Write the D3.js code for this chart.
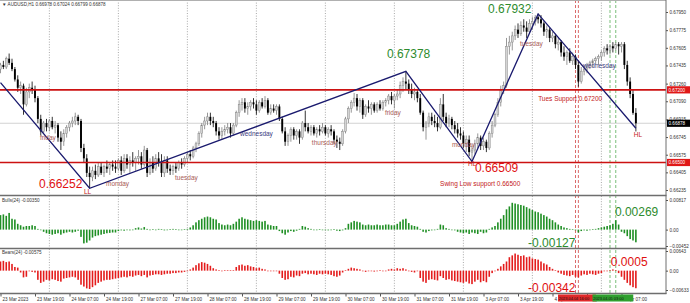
<!DOCTYPE html>
<html><head><meta charset="utf-8">
<script src="https://cdn.jsdelivr.net/npm/d3@7/dist/d3.min.js"></script>
<style>html,body{margin:0;padding:0;background:#fff;}svg{display:block;font-family:"Liberation Sans",Arial,sans-serif;}</style>
</head><body>
<svg id="c" width="690" height="303"></svg>
<script>
// ---------- DATA ----------
const symbolHeader = "AUDUSD,H1  0.66978 0.67024 0.66799 0.66878";
const days = ["23 Mar","24 Mar","27 Mar","28 Mar","29 Mar","30 Mar","31 Mar","3 Apr","4 Apr","5 Apr"];
const firstHour = 7, lastHour = 12;

// H1 candles [open, high, low, close] in units of 0.0001
const candles = [
// 23 Mar
[6740,6746,6736,6744],[6744,6748,6740,6742],[6742,6752,6740,6750],[6750,6755,6744,6746],[6746,6750,6738,6740],
[6740,6742,6728,6730],[6730,6734,6718,6722],[6722,6728,6716,6724],[6724,6726,6696,6706],[6706,6722,6704,6718],
[6718,6726,6712,6722],[6722,6728,6716,6720],[6720,6724,6708,6712],[6712,6714,6688,6692],[6692,6696,6676,6680],
[6680,6690,6678,6688],[6688,6692,6680,6684],
// 24 Mar
[6684,6692,6680,6690],[6690,6694,6682,6684],[6684,6690,6678,6686],[6686,6688,6670,6674],[6674,6680,6662,6670],
[6670,6682,6666,6678],[6678,6686,6674,6684],[6684,6690,6680,6688],[6688,6694,6684,6690],[6690,6698,6686,6694],
[6694,6696,6686,6690],[6690,6692,6660,6664],[6664,6668,6650,6654],[6654,6658,6636,6640],[6640,6646,6625.2,6636],
[6636,6646,6632,6642],[6642,6648,6634,6638],[6638,6650,6636,6646],[6646,6650,6638,6640],[6640,6648,6636,6646],
[6646,6652,6640,6644],[6644,6650,6638,6648],[6648,6652,6642,6646],[6646,6652,6640,6644],
// 27 Mar
[6644,6654,6642,6652],[6652,6656,6638,6642],[6642,6658,6640,6654],[6654,6658,6644,6648],[6648,6656,6640,6652],
[6652,6660,6646,6650],[6650,6656,6642,6654],[6654,6662,6648,6656],[6656,6660,6644,6648],[6648,6666,6646,6662],
[6662,6664,6636,6640],[6640,6654,6638,6650],[6650,6656,6640,6644],[6644,6658,6642,6654],[6654,6660,6646,6650],
[6650,6658,6636,6640],[6640,6656,6636,6652],[6652,6656,6640,6644],[6644,6648,6638,6642],[6642,6648,6638,6646],
[6646,6650,6640,6644],[6644,6652,6642,6650],[6650,6654,6644,6648],[6648,6656,6646,6654],
// 28 Mar
[6654,6660,6650,6658],[6658,6662,6652,6656],[6656,6666,6654,6664],[6664,6670,6660,6668],[6668,6680,6666,6678],
[6678,6688,6674,6686],[6686,6694,6682,6690],[6690,6698,6686,6694],[6694,6698,6686,6690],[6690,6694,6684,6688],
[6688,6690,6676,6680],[6680,6684,6672,6676],[6676,6684,6672,6680],[6680,6686,6676,6682],[6682,6688,6678,6684],
[6684,6688,6674,6678],[6678,6688,6676,6686],[6686,6700,6684,6698],[6698,6710,6694,6706],[6706,6712,6700,6708],
[6708,6712,6698,6702],[6702,6708,6696,6704],[6704,6710,6700,6708],[6708,6712,6702,6706],
// 29 Mar
[6706,6710,6696,6700],[6700,6710,6698,6708],[6708,6712,6702,6704],[6704,6714,6702,6710],[6710,6712,6696,6698],
[6698,6706,6696,6702],[6702,6706,6698,6700],[6700,6706,6696,6704],[6704,6706,6690,6692],[6692,6694,6678,6680],
[6680,6684,6666,6670],[6670,6678,6666,6676],[6676,6684,6670,6682],[6682,6684,6672,6676],[6676,6682,6672,6680],
[6680,6682,6668,6674],[6674,6690,6672,6688],[6688,6700,6680,6684],[6684,6688,6678,6680],[6680,6686,6676,6684],
[6684,6686,6676,6678],[6678,6684,6674,6682],[6682,6686,6676,6680],[6680,6688,6678,6684],
// 30 Mar
[6684,6686,6676,6678],[6678,6684,6674,6682],[6682,6686,6676,6680],[6680,6682,6668,6672],[6672,6676,6664,6670],
[6670,6674,6662,6668],[6668,6682,6666,6680],[6680,6694,6678,6692],[6692,6704,6688,6702],[6702,6710,6698,6708],
[6708,6717,6704,6712],[6712,6716,6700,6704],[6704,6712,6698,6710],[6710,6712,6692,6696],[6696,6706,6694,6704],
[6704,6710,6698,6702],[6702,6708,6696,6706],[6706,6708,6698,6700],[6700,6708,6698,6706],[6706,6710,6700,6702],
[6702,6710,6700,6708],[6708,6712,6704,6710],[6710,6716,6706,6714],[6714,6718,6706,6710],
// 31 Mar
[6710,6716,6702,6714],[6714,6720,6710,6716],[6716,6728,6712,6724],[6724,6732,6718,6728],[6728,6737.8,6720,6726],
[6726,6730,6716,6720],[6720,6726,6712,6716],[6716,6722,6710,6718],[6718,6720,6708,6712],[6712,6716,6696,6698],
[6698,6700,6680,6684],[6684,6690,6672,6688],[6688,6698,6684,6694],[6694,6698,6686,6690],[6690,6696,6684,6688],
[6688,6694,6680,6684],[6684,6712,6682,6706],[6706,6716,6690,6694],[6694,6698,6684,6688],[6688,6696,6684,6692],
[6692,6694,6682,6686],[6686,6690,6678,6682],[6682,6688,6674,6678],[6678,6684,6672,6676],
// 3 Apr
[6676,6680,6664,6668],[6668,6676,6660,6672],[6672,6676,6656,6660],[6660,6666,6650.9,6662],[6662,6672,6658,6668],
[6668,6678,6664,6674],[6674,6676,6662,6666],[6666,6674,6662,6670],[6670,6672,6660,6664],[6664,6680,6662,6678],
[6678,6690,6674,6686],[6686,6698,6684,6696],[6696,6712,6694,6708],[6708,6724,6704,6720],[6720,6728,6716,6724],
[6724,6770,6722,6762],[6762,6772,6754,6766],[6766,6776,6758,6772],[6772,6782,6768,6778],[6778,6784,6770,6774],
[6774,6786,6772,6782],[6782,6788,6776,6780],[6780,6786,6770,6776],[6776,6788,6774,6784],
// 4 Apr
[6784,6790,6778,6786],[6786,6792,6782,6790],[6790,6793.2,6784,6788],[6788,6792,6780,6784],[6784,6786,6772,6776],
[6776,6782,6770,6778],[6778,6780,6766,6770],[6770,6776,6766,6772],[6772,6774,6760,6764],[6764,6770,6758,6766],
[6766,6768,6752,6756],[6756,6762,6748,6752],[6752,6758,6744,6756],[6756,6760,6746,6748],[6748,6756,6744,6752],
[6752,6754,6740,6744],[6744,6748,6723,6728],[6728,6742,6726,6738],[6738,6744,6734,6740],[6740,6746,6736,6744],
[6744,6748,6740,6746],[6746,6750,6742,6748],[6748,6752,6744,6750],[6750,6754,6744,6752],
// 5 Apr
[6752,6758,6748,6756],[6756,6762,6752,6760],[6760,6764,6754,6758],[6758,6764,6754,6762],[6762,6766,6756,6760],
[6760,6766,6758,6764],[6764,6766,6754,6762],[6762,6766,6756,6764],[6764,6766,6740,6744],[6744,6748,6724,6728],
[6728,6732,6712,6716],[6716,6720,6696,6697.8],[6697.8,6702.4,6679.9,6687.8]
];

// Bulls Power(24), units of 0.0001
const bulls = [
40,42,38,46,30,28,16,12,8,10,10,12,10,2,0,-6,-10,
-12,-14,-12,-10,-14,-10,-8,-6,-8,-6,-3,-20,-38,-36,-30,-22,-18,-16,-14,-12,-10,-9,-8,-8,
-4,-2,-3,-1,-2,0,4,6,3,7,2,0,1,-1,2,1,-2,0,1,2,1,-1,0,1,
2,6,12,20,26,30,34,36,34,30,28,18,14,12,14,12,16,22,30,34,30,28,26,24,
26,24,22,24,14,12,10,10,-4,-10,-14,-8,-4,-6,-3,2,10,8,4,2,0,-1,1,0,
-1,-2,0,1,-3,-4,-2,4,16,20,24,22,20,14,12,14,12,12,14,12,12,14,14,12,
12,16,22,28,30,18,12,10,8,2,-6,-8,-4,-2,0,2,14,12,4,2,0,-2,-6,-8,
-10,-8,-12,-8,-10,-12,-6,-10,-8,2,6,10,20,30,40,56,64,74,72,70,68,66,62,58,
54,50,48,44,40,36,30,26,20,14,10,6,4,2,1,-2,-8,-4,-2,-3,0,1,2,4,
6,8,10,12,16,26,14,-6,-10,-18,-26,-30,-35
];

// Bears Power(24), units of 0.0001
const bears = [
30,32,28,30,22,12,10,-6,-22,-20,-2,-4,-6,-30,-40,-36,-30,
-32,-28,-30,-34,-36,-26,-24,-22,-20,-22,-30,-46,-52,-58,-60,-54,-48,-40,-36,-32,-30,-30,-28,-26,
-24,-22,-20,-22,-18,-20,-16,-14,-18,-14,-22,-16,-14,-12,-12,-14,-12,-10,-10,-8,-8,-6,-6,-4,
-2,4,10,18,24,28,26,22,16,8,4,2,0,1,2,1,2,12,18,20,16,18,14,12,
8,10,6,4,0,-2,-1,0,-10,-24,-30,-28,-20,-22,-16,-18,-10,-8,-12,-10,-12,-14,-10,-12,
-10,-12,-14,-18,-20,-16,-6,2,6,10,8,6,4,-2,-4,-2,0,-3,-1,1,-2,0,4,6,
4,8,6,8,4,0,-4,-6,-2,-24,-36,-40,-30,-28,-30,-32,-18,-24,-30,-28,-32,-34,-36,-38,
-40,-36,-42,-44,-36,-30,-38,-34,-38,-20,-8,-2,6,14,22,30,44,50,56,52,48,50,44,46,
40,38,36,30,24,20,12,6,2,-6,-10,-14,-16,-18,-14,-20,-22,-16,-12,-14,-10,-12,-14,-10,
-8,-2,0,2,4,1,-8,-20,-30,-40,-48,-54,-57.5
];

const priceTicks = [0.67950,0.67775,0.67605,0.67435,0.67260,0.67090,0.66915,0.66745,0.66575,0.66405,0.66235];
const bullTicks = [0.00817,0,-0.00452];
const bearTicks = [0.00643,0,-0.00633];
const supportLevels = [0.67200,0.66500];
const bidPrice = 0.66878;
const bullsLabel = "Bulls(24) -0.00350";
const bearsLabel = "Bears(24) -0.00575";

// zig-zag swing points [bar, price]
const swings = [[0,0.6727],[31,0.66252],[141,0.67378],[164,0.66509],[187,0.67932],[221,0.6683]];

// vertical marker lines (time, axis tag); the last one of each kind is drawn on top
const vLines = [
  {time:"4 Apr 15", tag:"2023.04.04 15:00", kind:"red"},
  {time:"4 Apr 16", tag:"2023.04.04 16:00", kind:"red"},
  {time:"5 Apr 05", tag:"2023.04.05 05:00", kind:"green"},
  {time:"5 Apr 03", tag:"2023.04.05 03:00", kind:"green"}
];

// text annotations anchored at (bar, price/value)
const bigNotes = [
  {t:"0.66252", bar:13.4, p:0.66254, kind:"red"},
  {t:"0.67378", bar:134.4, p:0.67507, kind:"green"},
  {t:"0.66509", bar:165.0, p:0.66408, kind:"red"},
  {t:"0.67932", bar:169.6, p:0.67945, kind:"green"}
];
const dayNotes = [
  {t:"friday", bar:13.7, p:0.66712, kind:"day"},
  {t:"monday", bar:36.7, p:0.66278, kind:"day"},
  {t:"tuesday", bar:60.7, p:0.66336, kind:"day"},
  {t:"wednesday", bar:83.3, p:0.66760, kind:"wed"},
  {t:"thursday", bar:108.3, p:0.66664, kind:"day"},
  {t:"friday", bar:133.7, p:0.66962, kind:"day"},
  {t:"monday", bar:157.0, p:0.66645, kind:"day"},
  {t:"tuesday", bar:180.7, p:0.67627, kind:"day"},
  {t:"wednesday", bar:202.6, p:0.67415, kind:"wed"},
  {t:"LL", bar:29.0, p:0.66192, kind:"tag"},
  {t:"HL", bar:162.6, p:0.66462, kind:"tag"},
  {t:"HL", bar:220.3, p:0.66741, kind:"tag"},
  {t:"Swing Low support 0.66500", bar:152.9, p:0.66278, kind:"tag"},
  {t:"Tues Support 0.67200", bar:187.0, p:0.67097, kind:"tag"}
];
const indNotes = [
  {t:"0.00269", bar:213.7, v:0.00375, panel:"bull"},
  {t:"-0.00127", bar:183.5, v:-0.0048, panel:"bull"},
  {t:"-0.00342", bar:183.5, v:-0.0070, panel:"bear"},
  {t:"0.0005", bar:212.3, v:0.0015, panel:"bear"}
];

// ---------- CHART ----------
const colors = {red:"#e01010", green:"#2e8b2e", day:"#a85a55", wed:"#3c3c80", tag:"#c41a1a",
  bull:"#1f8f24", bear:"#e41c1c", line:"#1a1a6e", level:"#cc1212"};
const svg = d3.select("#c");
const plotR = 666;
const panels = {main:[0,195], bull:[196,248], bear:[249,293]};

const times = [];
days.forEach((d,k)=>{
  const h0 = k===0?firstHour:0, h1 = k===days.length-1?lastHour:23;
  for(let h=h0;h<=h1;h++) times.push({day:d,hour:h});
});
const pad = h => (h<10?"0":"")+h;
const findBar = s => times.findIndex(t => (t.day+" "+pad(t.hour))===s);

const x = d3.scaleLinear().domain([0, times.length-1]).range([0.5, 0.5+(times.length-1)*2.875]);
const y = d3.scaleLinear().domain([0.66235,0.67950]).range([190,12]);
const yB = d3.scaleLinear().domain([-0.00452,0.00817]).range([246,200]);
const yR = d3.scaleLinear().domain([-0.00633,0.00643]).range([290,251]);

const defs = svg.append("defs");
Object.entries(panels).forEach(([k,[t,b]])=>{
  defs.append("clipPath").attr("id","clip-"+k).append("rect").attr("x",0).attr("y",t).attr("width",plotR).attr("height",b-t);
});

// gridlines (midnight)
const gridBars = times.map((t,i)=>t.hour===0?i:-1).filter(i=>i>=0);
const gGrid = svg.append("g");
Object.values(panels).forEach(([t,b])=>{
  gGrid.selectAll(null).data(gridBars).join("line")
    .attr("x1",d=>x(d)).attr("x2",d=>x(d)).attr("y1",t).attr("y2",b)
    .attr("stroke","#949494").attr("stroke-width",0.8).attr("stroke-dasharray","1,1.6");
});

// bid line
svg.append("line").attr("x1",0).attr("x2",plotR).attr("y1",y(bidPrice)).attr("y2",y(bidPrice))
  .attr("stroke","#c8c8c8").attr("stroke-width",0.8);

// vertical marker lines
const vl = vLines.map(v=>({...v, i:findBar(v.time)}));
svg.append("g").selectAll("line").data(vl).join("line")
  .attr("x1",d=>x(d.i)).attr("x2",d=>x(d.i)).attr("y1",0).attr("y2",293)
  .attr("stroke",d=>d.kind==="red"?"#d65a5a":"#6cb86c").attr("stroke-width",0.9).attr("stroke-dasharray","3,2");

// candles
const gC = svg.append("g").attr("clip-path","url(#clip-main)");
const P = v => v/10000;
gC.selectAll("line.w").data(candles).join("line").attr("class","w")
  .attr("x1",(d,i)=>x(i)).attr("x2",(d,i)=>x(i))
  .attr("y1",d=>y(P(d[1]))).attr("y2",d=>y(P(d[2])))
  .attr("stroke",d=>d[3]>=d[0]?"#7c7c7c":"#000").attr("stroke-width",0.8);
gC.selectAll("rect.b").data(candles).join("rect").attr("class","b")
  .attr("x",(d,i)=>x(i)-0.95).attr("width",1.9)
  .attr("y",d=>y(P(Math.max(d[0],d[3]))))
  .attr("height",d=>Math.max(0.8, Math.abs(y(P(d[0]))-y(P(d[3])))))
  .attr("fill",d=>d[3]>=d[0]?"#d4d4d4":"#000")
  .attr("stroke",d=>d[3]>=d[0]?"#808080":"none").attr("stroke-width",0.45);

// support levels
svg.append("g").attr("clip-path","url(#clip-main)").selectAll("line").data(supportLevels).join("line")
  .attr("x1",0).attr("x2",plotR).attr("y1",d=>y(d)).attr("y2",d=>y(d))
  .attr("stroke",colors.level).attr("stroke-width",1.6);

// zig-zag
svg.append("path").attr("clip-path","url(#clip-main)")
  .attr("d", d3.line().x(d=>x(d[0])).y(d=>y(d[1]))(swings))
  .attr("fill","none").attr("stroke",colors.line).attr("stroke-width",1.3);

// annotations
svg.append("g").selectAll("text").data(bigNotes).join("text")
  .attr("x",d=>x(d.bar)).attr("y",d=>y(d.p)).text(d=>d.t)
  .attr("font-size",12).attr("fill",d=>colors[d.kind]);
svg.append("g").selectAll("text").data(dayNotes).join("text")
  .attr("x",d=>x(d.bar)).attr("y",d=>y(d.p)).text(d=>d.t)
  .attr("font-size",6.5).attr("fill",d=>colors[d.kind]);

// histograms
function hist(data, ys, clip, color){
  svg.append("g").attr("clip-path","url(#clip-"+clip+")").selectAll("rect").data(data).join("rect")
    .attr("x",(d,i)=>x(i)-0.8).attr("width",1.6)
    .attr("y",d=>Math.min(ys(d/10000), ys(0)))
    .attr("height",d=>Math.max(0.6, Math.abs(ys(d/10000)-ys(0))))
    .attr("fill",color);
}
hist(bulls, yB, "bull", colors.bull);
hist(bears, yR, "bear", colors.bear);

svg.append("g").selectAll("text").data(indNotes).join("text")
  .attr("x",d=>x(d.bar)).attr("y",d=>d.panel==="bull"?yB(d.v):yR(d.v)).text(d=>d.t)
  .attr("font-size",12).attr("fill",d=>d.panel==="bull"?colors.green:colors.red);

// frames / separators
svg.append("line").attr("x1",0).attr("x2",plotR).attr("y1",0.5).attr("y2",0.5).attr("stroke","#b0b0b0").attr("stroke-width",1);
[195.5,248.5,293.5].forEach(v=>svg.append("line").attr("x1",0).attr("x2",plotR+0.5).attr("y1",v).attr("y2",v)
  .attr("stroke","#6e6e6e").attr("stroke-width",1.3));
svg.append("line").attr("x1",plotR).attr("x2",plotR).attr("y1",0).attr("y2",294).attr("stroke","#6e6e6e").attr("stroke-width",1);

// header & indicator captions
svg.append("text").attr("x",2).attr("y",6).attr("font-size",4.6).attr("fill","#333").text("\u25BC "+symbolHeader);
svg.append("text").attr("x",2).attr("y",202).attr("font-size",4.6).attr("fill","#333").text(bullsLabel);
svg.append("text").attr("x",2).attr("y",254).attr("font-size",4.6).attr("fill","#333").text(bearsLabel);

// right axes
function rAxis(scale, ticks, fmt){
  const g = svg.append("g").attr("transform",`translate(${plotR},0)`)
    .call(d3.axisRight(scale).tickValues(ticks).tickFormat(fmt).tickSize(2).tickPadding(1.5));
  g.select(".domain").remove();
  g.selectAll("text").attr("font-size",4.6).attr("fill","#333").attr("font-family","Liberation Sans, Arial");
  g.selectAll("line").attr("stroke","#555");
}
rAxis(y, priceTicks, d3.format(".5f"));
rAxis(yB, bullTicks, d=>d===0?"0.00":d3.format(".5f")(d));
rAxis(yR, bearTicks, d=>d===0?"0.00":d3.format(".5f")(d));

// price boxes
const boxes = [...supportLevels.map(v=>({v,fill:"#e01818"})), {v:bidPrice, fill:"#000"}];
const gBox = svg.append("g").selectAll("g").data(boxes).join("g").attr("transform",d=>`translate(${plotR+1},${y(d.v)})`);
gBox.append("rect").attr("x",0).attr("y",-3.6).attr("width",23).attr("height",7.2).attr("fill",d=>d.fill);
gBox.append("text").attr("x",1.5).attr("y",1.7).attr("font-size",4.6).attr("fill","#fff").text(d=>d3.format(".5f")(d.v));

// time axis (labels every 12 hours; labels that sit fully under the marker tags are hidden like in the terminal)
const tagSpan = d3.rollups(vl, v=>[d3.min(v,d=>x(d.i))-17.5, d3.max(v,d=>x(d.i))+17.5, v[v.length-1]], d=>d.kind);
const underTag = i => tagSpan.some(([k,[a,b]])=>x(i)>=a && x(i)+20<=b+1);
const labelBars = times.map((t,i)=>(i===0||t.hour===7||t.hour===19)?i:-1).filter(i=>i>=0 && !underTag(i));
const tfmt = i => i===0 ? times[0].day+" 2023" : times[i].day+" "+pad(times[i].hour)+":00";
const gx = svg.append("g").attr("transform","translate(0,294)")
  .call(d3.axisBottom(x).tickValues(labelBars).tickFormat(tfmt).tickSize(2.5).tickPadding(1));
gx.select(".domain").remove();
gx.selectAll("line").attr("stroke","#555");
gx.selectAll("text").attr("text-anchor","start").attr("dx",1.5).attr("font-size",4.6).attr("fill","#333")
  .attr("font-family","Liberation Sans, Arial");

// marker tags on time axis: one merged box per colour, showing the top-most tag text
const tg = svg.append("g").selectAll("g").data(tagSpan).join("g");
tg.append("rect").attr("x",d=>d[1][0]).attr("y",294.5).attr("width",d=>d[1][1]-d[1][0]).attr("height",7)
  .attr("fill",d=>d[0]==="red"?"#e02a2a":"#2fa02f");
tg.append("text").attr("x",d=>d[1][0]+0.8).attr("y",299.8).attr("font-size",3.9).attr("fill","#111")
  .text(d=>d[1][2].tag);
</script>
</body></html>
